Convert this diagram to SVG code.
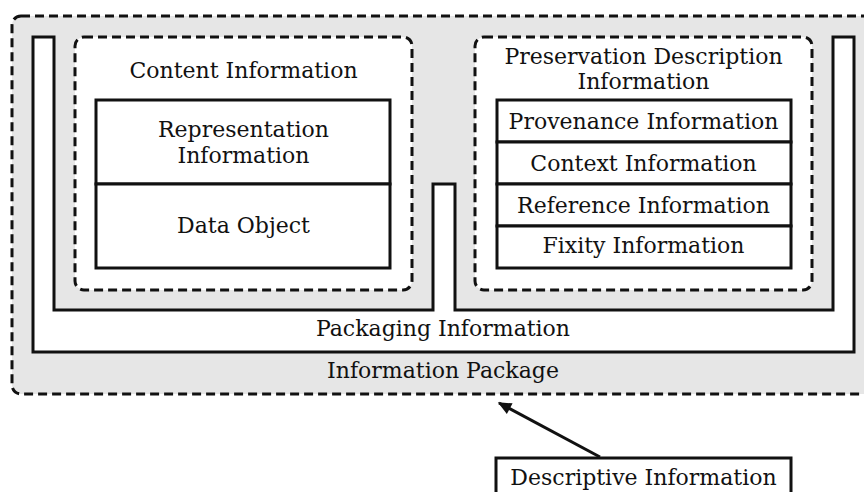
<svg xmlns="http://www.w3.org/2000/svg" width="864" height="492" viewBox="0 0 864 492">
<style>
text{font-family:"DejaVu Serif","Liberation Serif",serif;font-size:22px;fill:#111;text-anchor:middle}
.solid{fill:#fff;stroke:#111;stroke-width:3}
.dash{stroke:#111;stroke-width:3;stroke-dasharray:9 5}
.ln{stroke:#111;stroke-width:3;fill:none}
</style>
<defs>
<marker id="ah" viewBox="0 0 10 10" refX="9" refY="5" markerWidth="5" markerHeight="4.5" orient="auto" markerUnits="strokeWidth">
<path d="M0,0.5 L10,5 L0,9.5 z" fill="#111"/>
</marker>
</defs>
<g id="information-package">
<rect class="dash" x="12" y="16" width="880" height="378" rx="9" fill="#e6e6e6"/>
<text x="443" y="378">Information Package</text>
</g>
<g id="packaging-information">
<path class="solid" d="M33,37 H54 V310 H433 V184 H455 V310 H833 V37 H854 V352 H33 Z"/>
<text x="443" y="336">Packaging Information</text>
</g>
<g id="content-information">
<rect class="dash" x="75" y="37" width="337" height="253" rx="9" fill="#fff"/>
<text x="243.5" y="78">Content Information</text>
</g>
<g id="representation-information">
<rect class="solid" x="96" y="100" width="294" height="84"/>
<text x="243.5" y="137">Representation</text>
<text x="243.5" y="163">Information</text>
</g>
<g id="data-object">
<rect class="solid" x="96" y="184" width="294" height="84"/>
<text x="243.5" y="233">Data Object</text>
</g>
<g id="preservation-description-information">
<rect class="dash" x="475" y="37" width="337" height="253" rx="9" fill="#fff"/>
<text x="643.5" y="64">Preservation Description</text>
<text x="643.5" y="89">Information</text>
</g>
<g id="provenance-information">
<rect class="solid" x="497" y="100" width="294" height="42"/>
<text x="643.5" y="129">Provenance Information</text>
</g>
<g id="context-information">
<rect class="solid" x="497" y="142" width="294" height="42"/>
<text x="643.5" y="171">Context Information</text>
</g>
<g id="reference-information">
<rect class="solid" x="497" y="184" width="294" height="42"/>
<text x="643.5" y="213">Reference Information</text>
</g>
<g id="fixity-information">
<rect class="solid" x="497" y="226" width="294" height="42"/>
<text x="643.5" y="253">Fixity Information</text>
</g>
<g id="descriptive-information">
<rect class="solid" x="496" y="458" width="295" height="50"/>
<text x="643.5" y="485">Descriptive Information</text>
</g>
<g id="connectors">
<line class="ln" x1="600" y1="457" x2="499" y2="403" marker-end="url(#ah)"/>
</g>
</svg>
